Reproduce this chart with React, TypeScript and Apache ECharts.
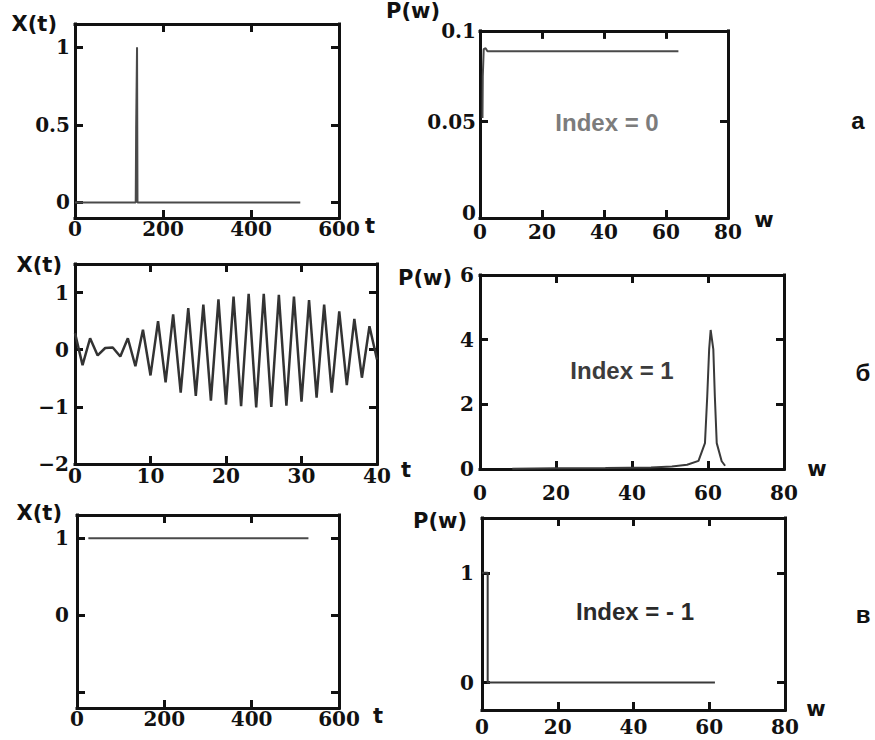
import React, { useEffect, useRef } from "react";
import * as echarts from "echarts";

// а) single impulse and its flat spectrum
const pulseT = [0, 138, 139, 141, 142, 512];
const pulseX = [0, 0, 0.48, 1, 0, 0];
const flatW = [0.8, 0.9, 1.2, 1.8, 2.4, 64];
const flatP = [0.052, 0.075, 0.09, 0.0905, 0.0888, 0.0888];

// б) modulated oscillation and its narrow spectral line
const waveT = [
  0, 1, 2, 3, 4, 5, 6, 7, 8, 9, 10, 11, 12, 13, 14, 15, 16, 17, 18, 19, 20,
  21, 22, 23, 24, 25, 26, 27, 28, 29, 30, 31, 32, 33, 34, 35, 36, 37, 38, 39, 40,
];
const waveX = [
  0.29, -0.27, 0.2, -0.1, 0.03, 0.04, -0.12, 0.2, -0.29, 0.35, -0.45, 0.5,
  -0.57, 0.62, -0.75, 0.73, -0.81, 0.79, -0.89, 0.88, -0.96, 0.93, -0.99,
  0.98, -1.01, 0.98, -1.0, 0.96, -0.98, 0.93, -0.91, 0.87, -0.84, 0.79, -0.75,
  0.67, -0.62, 0.54, -0.49, 0.41, -0.17,
];
const lineW = [8.5, 20, 33, 45, 50.5, 54.5, 57.5, 59.2, 59.8, 60.3, 60.7, 61.4, 61.8, 62.3, 63.6, 64.5];
const lineP = [0.01, 0.02, 0.03, 0.05, 0.08, 0.13, 0.25, 0.8, 2.25, 3.7, 4.3, 3.7, 2.25, 0.8, 0.24, 0.1];

// в) constant signal and its spectrum concentrated at zero
const constT = [26, 530];
const constX = [1, 1];
const zeroW = [0, 1.5, 1.5, 61.5];
const zeroP = [1, 1, 0, 0];

// tick positions and labelled values per panel
const ticksT600 = [200, 400];
const labelsT600 = [0, 200, 400, 600];
const ticksT40 = [10, 20, 30];
const labelsT40 = [0, 10, 20, 30, 40];
const ticksW = [20, 40, 60];
const labelsW = [0, 20, 40, 60, 80];
const ticksYa = [0, 0.5, 1];
const labelsYa = [0, 0.5, 1];
const ticksPa = [0.05];
const labelsPa = [0, 0.05, 0.1];
const ticksYb = [-1, 0, 1];
const labelsYb = [-2, -1, 0, 1];
const ticksPb = [2, 4];
const labelsPb = [0, 2, 4, 6];
const ticksYc = [-1, 0, 1];
const labelsYc = [0, 1];
const ticksPc = [0, 1];
const labelsPc = [0, 1];

const zip = (a: number[], b: number[]) => a.map((v, i) => [v, b[i]]);

const SERIF = '"DejaVu Serif", "Liberation Serif", serif';
const SANS = '"DejaVu Sans", "Liberation Sans", sans-serif';
const ARIAL = '"Liberation Sans", Arial, sans-serif';
const INK = "#111";
const TICK_LEN = 8;

type Panel = {
  rect: { left: number; top: number; width: number; height: number };
  x: { min: number; max: number; ticks: number[]; labels: number[]; margin: number };
  y: { min: number; max: number; ticks: number[]; labels: number[]; margin: number };
  xName: string;
  xNameAt: [number, number];
  yName: string;
  yNameGap: number;
  yNamePad: number;
  data: number[][];
  color: string;
  width: number;
};

const panels: Panel[] = [
  {
    rect: { left: 75, top: 24, width: 264, height: 194 },
    x: { min: 0, max: 600, ticks: ticksT600, labels: labelsT600, margin: 1 },
    y: { min: -0.1, max: 1.15, ticks: ticksYa, labels: labelsYa, margin: 5 },
    xName: "t", xNameAt: [370, 226],
    yName: "X(t)", yNameGap: 0, yNamePad: 18,
    data: zip(pulseT, pulseX), color: "#4a4a4a", width: 2,
  },
  {
    rect: { left: 480, top: 24, width: 248, height: 194 },
    x: { min: 0, max: 80, ticks: ticksW, labels: labelsW, margin: 4 },
    y: { min: -0.003, max: 0.1, ticks: ticksPa, labels: labelsPa, margin: 4 },
    xName: "w", xNameAt: [764, 220],
    yName: "P(w)", yNameGap: 0, yNamePad: 40,
    data: zip(flatW, flatP), color: "#4a4a4a", width: 2,
  },
  {
    rect: { left: 75, top: 264, width: 302, height: 200 },
    x: { min: 0, max: 40, ticks: ticksT40, labels: labelsT40, margin: 2 },
    y: { min: -2, max: 1.5, ticks: ticksYb, labels: labelsYb, margin: 6 },
    xName: "t", xNameAt: [406, 470],
    yName: "X(t)", yNameGap: -1, yNamePad: 13,
    data: zip(waveT, waveX), color: "#333", width: 2.5,
  },
  {
    rect: { left: 480, top: 275, width: 304, height: 194 },
    x: { min: 0, max: 80, ticks: ticksW, labels: labelsW, margin: 14 },
    y: { min: 0, max: 6, ticks: ticksPb, labels: labelsPb, margin: 6 },
    xName: "w", xNameAt: [817, 469],
    yName: "P(w)", yNameGap: -3, yNamePad: 28,
    data: zip(lineW, lineP), color: "#3a3a3a", width: 2,
  },
  {
    rect: { left: 77, top: 515, width: 262, height: 193 },
    x: { min: 0, max: 600, ticks: ticksT600, labels: labelsT600, margin: 1 },
    y: { min: -1.2, max: 1.3, ticks: ticksYc, labels: labelsYc, margin: 8 },
    xName: "t", xNameAt: [378, 716],
    yName: "X(t)", yNameGap: 2, yNamePad: 15,
    data: zip(constT, constX), color: "#4a4a4a", width: 2,
  },
  {
    rect: { left: 482, top: 518, width: 303, height: 192 },
    x: { min: 0, max: 80, ticks: ticksW, labels: labelsW, margin: 7 },
    y: { min: -0.25, max: 1.5, ticks: ticksPc, labels: labelsPc, margin: 8 },
    xName: "w", xNameAt: [816, 709],
    yName: "P(w)", yNameGap: -3, yNamePad: 15,
    data: zip(zeroW, zeroP), color: "#3a3a3a", width: 2,
  },
];

const fmt = (v: number) => (v < 0 ? "\u2212" + Math.abs(v) : String(v));

const labelStyle = (values: number[], margin: number) => ({
  show: true,
  customValues: values,
  margin,
  formatter: fmt,
  fontFamily: SERIF,
  fontWeight: "bold" as const,
  fontSize: 20,
  color: INK,
});

const tickStyle = (values: number[]) => ({
  show: true,
  inside: true,
  length: TICK_LEN,
  customValues: values,
  lineStyle: { color: INK, width: 3 },
});

// each frame side sits on the zero of a hidden helper axis whose zero is at that edge
const sideLine = (helperIndex: number) => ({
  show: true,
  onZero: true,
  onZeroAxisIndex: helperIndex,
  lineStyle: { color: INK, width: 3, cap: "square" },
});

const helper = (gridIndex: number, min: number, max: number) => ({
  type: "value",
  gridIndex,
  min,
  max,
  show: false,
  axisLine: { show: false, onZero: false },
  axisTick: { show: false },
  axisLabel: { show: false },
  splitLine: { show: false },
});

function buildOption() {
  const grid = panels.map((p) => ({
    ...p.rect,
    show: false,
    containLabel: false,
  }));

  const xAxis: any[] = [];
  const yAxis: any[] = [];
  const series: any[] = [];

  panels.forEach((p, i) => {
    const base = 4 * i;
    const common = { type: "value", gridIndex: i, splitLine: { show: false } };
    // x axes: bottom, top, helper with zero at the left edge, helper with zero at the right edge
    xAxis.push({
      ...common,
      position: "bottom",
      min: p.x.min,
      max: p.x.max,
      axisLine: sideLine(base + 2),
      axisTick: tickStyle(p.x.ticks),
      axisLabel: labelStyle(p.x.labels, p.x.margin),
    });
    xAxis.push({
      ...common,
      position: "top",
      min: p.x.min,
      max: p.x.max,
      axisLine: sideLine(base + 3),
      axisTick: tickStyle(p.x.ticks),
      axisLabel: { show: false },
    });
    xAxis.push(helper(i, 0, 1));
    xAxis.push(helper(i, -1, 0));
    // y axes: left, right, helper with zero at the bottom edge, helper with zero at the top edge
    yAxis.push({
      ...common,
      position: "left",
      min: p.y.min,
      max: p.y.max,
      axisLine: sideLine(base + 2),
      axisTick: tickStyle(p.y.ticks),
      axisLabel: labelStyle(p.y.labels, p.y.margin),
      name: p.yName,
      nameLocation: "end",
      nameGap: p.yNameGap,
      nameTextStyle: {
        fontFamily: SANS,
        fontWeight: "bold",
        fontSize: 21,
        color: INK,
        align: "right",
        verticalAlign: "middle",
        padding: [0, p.yNamePad, 0, 0],
      },
    });
    yAxis.push({
      ...common,
      position: "right",
      min: p.y.min,
      max: p.y.max,
      axisLine: sideLine(base + 3),
      axisTick: tickStyle(p.y.ticks),
      axisLabel: { show: false },
    });
    yAxis.push(helper(i, 0, 1));
    yAxis.push(helper(i, -1, 0));

    series.push({
      type: "line",
      xAxisIndex: base,
      yAxisIndex: base,
      data: p.data,
      symbol: "none",
      showSymbol: false,
      silent: true,
      lineStyle: { color: p.color, width: p.width },
    });
  });

  const text = (t: string, x: number, y: number, fill: string, font: string) => ({
    type: "text",
    x,
    y,
    silent: true,
    style: { text: t, fill, font, align: "center", verticalAlign: "middle" },
  });

  const note = `bold 24px ${ARIAL}`;
  const graphic = [
    ...panels.map((p) => text(p.xName, p.xNameAt[0], p.xNameAt[1], INK, `bold 21px ${SANS}`)),
    text("Index = 0", 607, 122, "#7c7c7c", note),
    text("Index = 1", 622, 370, "#3c3c3c", note),
    text("Index = - 1", 635, 611, "#2a2a2a", note),
    text("\u0430", 858, 120, INK, note),
    text("\u0431", 863, 372, INK, note),
    text("\u0432", 863, 614, INK, note),
  ];

  return {
    animation: false,
    backgroundColor: "#ffffff",
    grid,
    xAxis,
    yAxis,
    series,
    graphic,
  };
}

export default function App() {
  const ref = useRef<HTMLDivElement>(null);

  useEffect(() => {
    if (!ref.current) return;
    const chart = echarts.init(ref.current, null, { renderer: "svg" });
    chart.setOption(buildOption());
    return () => chart.dispose();
  }, []);

  return (
    <div
      ref={ref}
      style={{
        position: "fixed",
        left: 0,
        top: 0,
        width: 875,
        height: 740,
        background: "#ffffff",
      }}
    />
  );
}
